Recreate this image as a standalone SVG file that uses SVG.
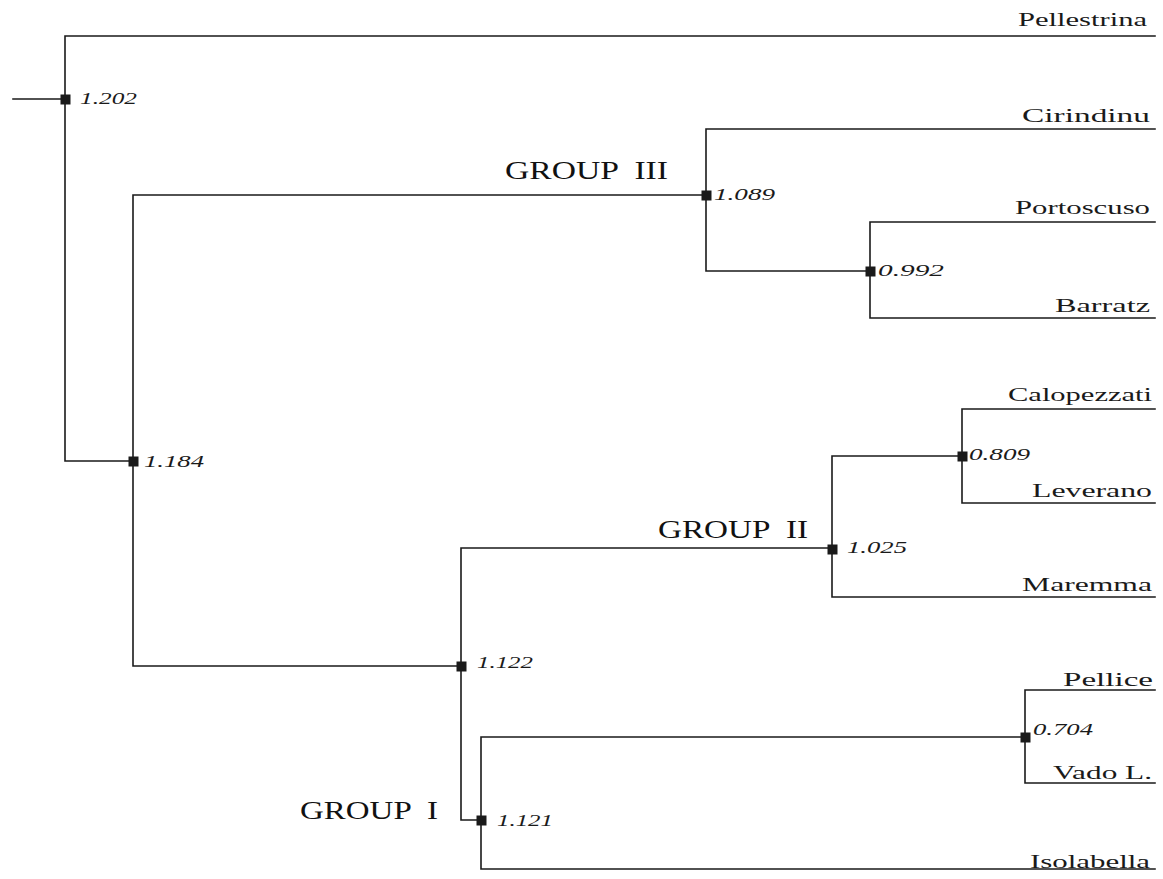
<svg xmlns="http://www.w3.org/2000/svg" width="1163" height="879" viewBox="0 0 1163 879">
<style>
.e{stroke:#1a1a1a;stroke-width:1.6;fill:none;stroke-linecap:square}
.sq{fill:#1a1a1a}
.leaf{font-family:"Liberation Serif",serif;font-size:19px;fill:#1a1a1a}
.val{font-family:"Liberation Serif",serif;font-size:16px;font-style:italic;fill:#1a1a1a}
.grp{font-family:"Liberation Serif",serif;font-size:26px;fill:#111;white-space:pre}
</style>
<rect width="1163" height="879" fill="#fff"/>
<g id="connectors">
<path class="e" d="M13,99H65M65,36V461M65,36H1155M65,461H133M133,195V666M133,195H706M706,129V271M706,129H1155M706,271H870M870,222V318M870,222H1155M870,318H1155M133,666H461M461,548V820H481M461,548H832M832,456V597M832,456H962M962,409V503M962,409H1155M962,503H1155M832,597H1155M481,737V869M481,737H1025M1025,690V783M1025,690H1155M1025,783H1155M481,869H1155"/>
</g>
<g id="n1202"><rect class="sq" x="60.5" y="94.5" width="10" height="10"/><text class="val" x="80" y="104" textLength="57" lengthAdjust="spacingAndGlyphs">1.202</text></g>
<g id="n1184"><rect class="sq" x="128.5" y="456.5" width="10" height="10"/><text class="val" x="144" y="467" textLength="60" lengthAdjust="spacingAndGlyphs">1.184</text></g>
<g id="n1089"><rect class="sq" x="701.5" y="190.5" width="10" height="10"/><text class="val" x="714" y="200" textLength="61" lengthAdjust="spacingAndGlyphs">1.089</text></g>
<g id="n0992"><rect class="sq" x="865.5" y="266.5" width="10" height="10"/><text class="val" x="878" y="276" textLength="66" lengthAdjust="spacingAndGlyphs">0.992</text></g>
<g id="n1122"><rect class="sq" x="456.5" y="661.5" width="10" height="10"/><text class="val" x="477" y="668" textLength="56" lengthAdjust="spacingAndGlyphs">1.122</text></g>
<g id="n1025"><rect class="sq" x="827.5" y="544.5" width="10" height="10"/><text class="val" x="847" y="553" textLength="60" lengthAdjust="spacingAndGlyphs">1.025</text></g>
<g id="n0809"><rect class="sq" x="957.5" y="451.5" width="10" height="10"/><text class="val" x="969" y="460" textLength="61" lengthAdjust="spacingAndGlyphs">0.809</text></g>
<g id="n1121"><rect class="sq" x="476.5" y="815.5" width="10" height="10"/><text class="val" x="497" y="826" textLength="56" lengthAdjust="spacingAndGlyphs">1.121</text></g>
<g id="n0704"><rect class="sq" x="1020.5" y="732.5" width="10" height="10"/><text class="val" x="1033" y="735" textLength="60" lengthAdjust="spacingAndGlyphs">0.704</text></g>
<g id="leaf-pellestrina"><text class="leaf" x="1018" y="26" textLength="129" lengthAdjust="spacingAndGlyphs">Pellestrina</text></g>
<g id="leaf-cirindinu"><text class="leaf" x="1022" y="122" textLength="128" lengthAdjust="spacingAndGlyphs">Cirindinu</text></g>
<g id="leaf-portoscuso"><text class="leaf" x="1015" y="214" textLength="135" lengthAdjust="spacingAndGlyphs">Portoscuso</text></g>
<g id="leaf-barratz"><text class="leaf" x="1055" y="312" textLength="95" lengthAdjust="spacingAndGlyphs">Barratz</text></g>
<g id="leaf-calopezzati"><text class="leaf" x="1008" y="401" textLength="144" lengthAdjust="spacingAndGlyphs">Calopezzati</text></g>
<g id="leaf-leverano"><text class="leaf" x="1032" y="497" textLength="120" lengthAdjust="spacingAndGlyphs">Leverano</text></g>
<g id="leaf-maremma"><text class="leaf" x="1022" y="591" textLength="130" lengthAdjust="spacingAndGlyphs">Maremma</text></g>
<g id="leaf-pellice"><text class="leaf" x="1063" y="686" textLength="90" lengthAdjust="spacingAndGlyphs">Pellice</text></g>
<g id="leaf-vado"><text class="leaf" x="1053" y="779" textLength="99" lengthAdjust="spacingAndGlyphs">Vado L.</text></g>
<g id="leaf-isolabella"><text class="leaf" x="1030" y="868" textLength="120" lengthAdjust="spacingAndGlyphs">Isolabella</text></g>
<g id="group-labels">
<text class="grp" x="505" y="179" textLength="163" lengthAdjust="spacingAndGlyphs">GROUP  III</text>
<text class="grp" x="658" y="538" textLength="150" lengthAdjust="spacingAndGlyphs">GROUP  II</text>
<text class="grp" x="300" y="819" textLength="138" lengthAdjust="spacingAndGlyphs">GROUP  I</text>
</g>
</svg>
